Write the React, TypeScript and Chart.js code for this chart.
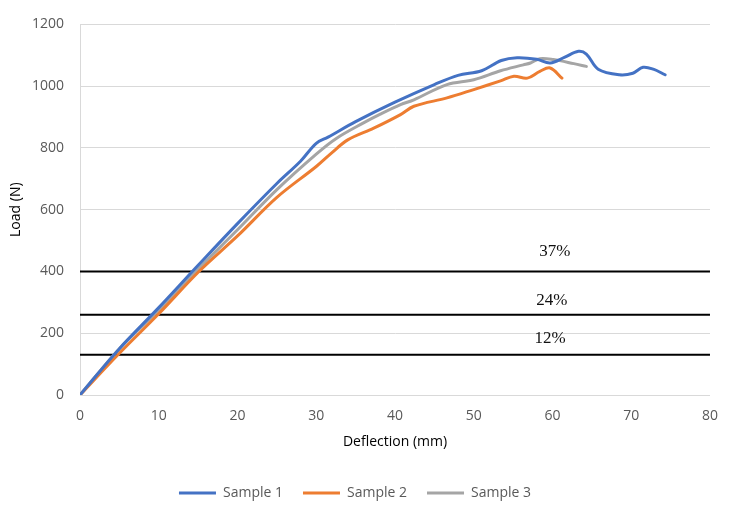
import { useEffect, useRef } from "react";
import { Chart, registerables } from "chart.js";

Chart.register(...registerables);

// Sample 1 (blue)
const sample1X = [0, 5, 10, 15, 20, 25, 28, 30, 31.5, 35, 40, 45, 48, 51, 53.5, 55.5, 58, 59.7, 61.5, 63.3, 64.3, 65.8, 68.5, 70.2, 71.5, 72.8, 74.3];
const sample1Y = [0, 150, 283, 420, 555, 685, 757, 815, 835, 885, 948, 1005, 1035, 1050, 1083, 1092, 1087, 1075, 1093, 1113, 1104, 1055, 1037, 1042, 1061, 1055, 1037];

// Sample 2 (orange)
const sample2X = [0, 5, 10, 15.1, 20, 25, 30, 32, 34, 37.3, 40.7, 42.4, 46.6, 50, 53.4, 55.1, 56.8, 58.4, 59.7, 61.2];
const sample2Y = [0, 135, 263, 400, 515, 640, 740, 785, 826, 864, 908, 935, 962, 989, 1017, 1032, 1026, 1048, 1059, 1026];

// Sample 3 (grey)
const sample3X = [0, 5, 10, 14.7, 20, 25, 30, 32.5, 36, 38.2, 40.7, 42.4, 46.6, 50, 53.4, 56.3, 57.2, 58.4, 60.1, 62.7, 64.3];
const sample3Y = [0, 150, 275, 400, 535, 665, 780, 830, 881, 910, 940, 956, 1005, 1021, 1050, 1069, 1075, 1089, 1086, 1073, 1064];

const seriesNames = ["Sample 1", "Sample 2", "Sample 3"];

// Threshold lines and their labels
const thresholdValues = [400, 260, 130];
const thresholdLabels = ["37%", "24%", "12%"];

// Axis ranges
const xMin = 0;
const xMax = 80;
const xStep = 10;
const yMin = 0;
const yMax = 1200;
const yStep = 200;

// label placement (kept apart from data)
const labelAnchorX = [60.3, 59.9, 59.7];
const labelOffsetPx = [20, 14, 16];

const colors = ["#4472C4", "#ED7D31", "#A5A5A5"];

export default function App() {
  const ref = useRef<HTMLCanvasElement>(null);

  useEffect(() => {
    if (!ref.current) return;
    const toPts = (xs: number[], ys: number[]) => xs.map((x, i) => ({ x, y: ys[i] }));

    const thresholdLabelPlugin = {
      id: "thresholdLabels",
      afterDatasetsDraw(chart: any) {
        const { ctx, scales } = chart;
        const xs = scales.x;
        const ys = scales.y;
        ctx.save();
        ctx.font = '17px "Liberation Serif"';
        ctx.fillStyle = "#111111";
        ctx.textAlign = "center";
        ctx.textBaseline = "middle";
        thresholdValues.forEach((v, i) => {
          ctx.fillText(
            thresholdLabels[i],
            xs.getPixelForValue(labelAnchorX[i]),
            ys.getPixelForValue(v) - labelOffsetPx[i]
          );
        });
        ctx.restore();
      },
    };

    const sampleSets = [
      toPts(sample1X, sample1Y),
      toPts(sample2X, sample2Y),
      toPts(sample3X, sample3Y),
    ].map((data, i) => ({
      label: seriesNames[i],
      data,
      borderColor: colors[i],
      backgroundColor: colors[i],
      borderWidth: 3,
      pointRadius: 0,
      tension: 0.35,
      borderCapStyle: "round" as const,
      borderJoinStyle: "round" as const,
    }));

    const thresholdSets = thresholdValues.map((v) => ({
      label: "",
      data: [
        { x: xMin, y: v },
        { x: xMax, y: v },
      ],
      borderColor: "#000000",
      backgroundColor: "#000000",
      borderWidth: 2,
      pointRadius: 0,
      tension: 0,
    }));

    const chart = new Chart(ref.current, {
      type: "line",
      data: { datasets: [...sampleSets, ...thresholdSets] as any },
      options: {
        animation: false,
        responsive: true,
        maintainAspectRatio: false,
        layout: { padding: { top: 23, right: 21, bottom: 0, left: 0 } },
        plugins: {
          tooltip: { enabled: false },
          legend: {
            position: "bottom",
            labels: {
              usePointStyle: true,
              pointStyle: "line",
              pointStyleWidth: 37,
              padding: 20,
              color: "#595959",
              font: { family: "'Open Sans'", size: 14 },
              filter: (item: any) => item.datasetIndex < 3,
            },
          },
        },
        scales: {
          x: {
            type: "linear",
            min: xMin,
            max: xMax,
            ticks: {
              stepSize: xStep,
              color: "#595959",
              font: { family: "'Open Sans'", size: 14 },
              padding: 13,
              maxRotation: 0,
              callback: (v: any) => String(v),
            },
            grid: { display: false, drawTicks: false },
            border: { display: true, color: "#D9D9D9", width: 1 },
            title: {
              display: true,
              text: "Deflection (mm)",
              color: "#000000",
              font: { family: "'Open Sans'", size: 14 },
              padding: { top: 0, bottom: 15.6 },
            },
            afterFit: (s: any) => {
              s.height = 71;
            },
          },
          y: {
            type: "linear",
            min: yMin,
            max: yMax,
            ticks: {
              stepSize: yStep,
              color: "#595959",
              font: { family: "'Open Sans'", size: 14 },
              padding: 16,
              callback: (v: any) => String(v),
            },
            grid: { color: "#D9D9D9", lineWidth: 1, drawTicks: false },
            border: { display: true, color: "#D9D9D9", width: 1 },
            title: {
              display: true,
              text: "Load (N)",
              color: "#000000",
              font: { family: "'Open Sans'", size: 14 },
              padding: { top: 7.6, bottom: 0 },
            },
            afterFit: (s: any) => {
              s.width = 80;
            },
          },
        },
      },
      plugins: [thresholdLabelPlugin],
    });

    return () => chart.destroy();
  }, []);

  return (
    <div style={{ position: "absolute", left: 0, top: 0, width: 731, height: 510, background: "#ffffff" }}>
      <canvas ref={ref} />
    </div>
  );
}
